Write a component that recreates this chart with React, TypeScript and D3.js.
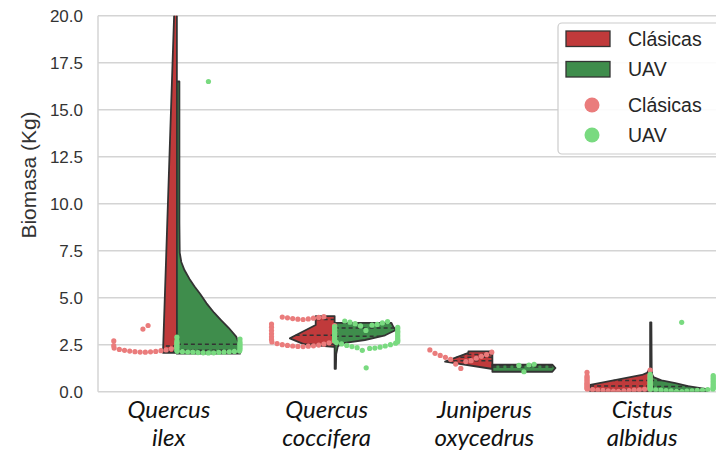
import React from 'react';
import * as d3 from 'd3';

// species on the x axis (two lines each, italic)
const categories = ['Quercus ilex', 'Quercus coccifera', 'Juniperus oxycedrus', 'Cistus albidus'];
const methods = ['Clásicas', 'UAV'];
const yTicks = [0, 2.5, 5, 7.5, 10, 12.5, 15, 17.5, 20];

// violin half outlines: [biomasa, relative density]
const clasicasViolin: [number, number][][] = [
  [[2.07, 0.22], [20.4, 0.04]],
  [[2.39, 0.02], [2.52, 0.48], [2.84, 0.71], [3.55, 0.3], [4.02, 0.3]],
  [[1.22, 0.02], [1.6, 0.75], [2.07, 0.38], [2.14, 0.38]],
  [[0, 0.95], [0.36, 0.95], [0.89, 0.13], [1.0, 0.05], [1.15, 0.02]],
];
const uavViolin: [number, number][][] = [
  [[2.02, 1.0], [2.5, 0.99], [2.93, 0.94], [3.4, 0.82], [3.81, 0.7], [4.2, 0.59], [4.7, 0.47], [5.2, 0.37], [5.6, 0.28], [6.0, 0.2],
    [6.47, 0.12], [6.9, 0.07], [7.4, 0.045], [9, 0.04], [16.5, 0.04]],
  [[1.22, 0.02], [2.0, 0.025], [2.4, 0.05], [2.57, 0.11], [2.75, 0.48], [3.0, 0.8], [3.28, 0.97], [3.45, 0.93], [3.66, 0.9]],
  [[1.06, 0.95], [1.26, 1.0], [1.44, 0.95]],
  [[0, 0.9], [0.14, 0.9], [0.3, 0.6], [0.45, 0.4], [0.6, 0.18], [0.76, 0.06], [0.89, 0.035], [1.1, 0.025], [3.69, 0.02]],
];

// individual measurements (swarm)
const clasicasPoints: number[][] = [
  [2.10, 2.11, 2.12, 2.13, 2.14, 2.16, 2.18, 2.20, 2.22, 2.25, 2.28, 2.32, 2.37, 2.45, 2.57, 2.7, 3.33, 3.52],
  [2.40, 2.41, 2.42, 2.43, 2.44, 2.46, 2.48, 2.50, 2.53, 2.56, 2.60, 2.65, 2.71, 2.78, 2.85, 2.92, 3.0, 3.08, 3.16, 3.25, 3.34, 3.43, 3.52, 3.60,
    3.84, 3.86, 3.87, 3.89, 3.91, 3.93, 3.95, 3.97, 3.99],
  [1.24, 1.47, 1.6, 1.65, 1.72, 1.78, 1.83, 1.88, 1.93, 1.98, 2.04, 2.1, 2.22],
  [0.02, 0.03, 0.04, 0.05, 0.06, 0.07, 0.08, 0.09, 0.10, 0.11, 0.12, 0.13, 0.15, 0.17, 0.19, 0.21, 0.24, 0.27, 0.30, 0.33, 0.36, 0.39,
    0.42, 0.45, 0.48, 0.52, 0.56, 0.60, 0.64, 0.68, 0.72, 0.76, 0.80, 0.84, 0.88, 1.03, 1.15],
];
const uavPoints: number[][] = [
  [2.06, 2.07, 2.07, 2.08, 2.09, 2.10, 2.10, 2.11, 2.12, 2.13, 2.14, 2.15, 2.16, 2.2, 2.25, 2.3, 2.35, 2.4, 2.45, 2.5, 2.55, 2.6, 2.65,
    2.7, 2.8, 2.9, 16.5],
  [1.27, 2.2, 2.3, 2.32, 2.34, 2.37, 2.40, 2.43, 2.46, 2.50, 2.54, 2.58, 2.62, 2.66, 2.70, 2.74, 2.78, 2.83, 2.88, 2.93, 2.98, 3.03, 3.08,
    3.13, 3.18, 3.22, 3.26, 3.30, 3.34, 3.38, 3.42, 3.46, 3.50, 3.54, 3.58, 3.62, 3.66, 3.70, 3.73, 3.76],
  [1.06, 1.40, 1.42, 1.46],
  [0.01, 0.02, 0.03, 0.04, 0.05, 0.06, 0.07, 0.08, 0.09, 0.10, 0.11, 0.12, 0.13, 0.15, 0.18, 0.21, 0.24, 0.27, 0.30, 0.34, 0.38, 0.42,
    0.46, 0.50, 0.54, 0.58, 0.62, 0.66, 0.70, 0.74, 0.78, 0.82, 0.86, 0.92, 3.69],
];

const violinColors = ['#c03a3b', '#3f8d4c'];
const pointColors = ['#ea7c7c', '#79da80'];
const edge = '#333333';
const R = 2.6;

// simple beeswarm; layout is computed on a compressed value axis, overflow goes to the gutters
function swarm(values: number[], cx: number, halfW: number, yLayout: (v: number) => number) {
  const pts = [...values].sort((a, b) => a - b).map(v => ({ v, yl: yLayout(v), dx: 0 }));
  const placed: typeof pts = [];
  const d2 = 4 * R * R;
  for (const p of pts) {
    const near = placed.filter(q => Math.abs(q.yl - p.yl) < 2 * R);
    const cands = [0];
    near.forEach(q => {
      const off = Math.sqrt(d2 - (q.yl - p.yl) ** 2);
      cands.push(q.dx - off, q.dx + off);
    });
    cands.sort((a, b) => Math.abs(a) - Math.abs(b) || a - b);
    for (const c of cands) {
      if (near.every(q => (q.dx - c) ** 2 + (q.yl - p.yl) ** 2 >= d2 - 1e-6)) { p.dx = c; break; }
    }
    placed.push(p);
  }
  return pts.map(p => ({ v: p.v, x: cx + Math.max(-halfW, Math.min(halfW, p.dx)) }));
}

export default function App() {
  const x = d3.scaleBand<string>().domain(categories).range([98, 729]);
  const y = d3.scaleLinear().domain([0, 20]).range([391.7, 15.7]);
  const yLayout = d3.scaleLinear().domain([0, 100]).range([375, 0]);
  const width = d3.scaleLinear().domain([0, 1]).range([0, x.step() * 0.4]);
  const swarmHalf = x.step() * 0.2;

  const halves = categories.map((c, i) => {
    const cx = x(c)! + x.bandwidth() / 2;
    return [clasicasViolin[i], uavViolin[i]].map((prof, h) => {
      const sgn = h === 0 ? -1 : 1;
      const area = d3.area<[number, number]>()
        .y(d => y(d[0]))
        .x0(cx)
        .x1(d => cx + sgn * width(d[1]));
      const dens = d3.scaleLinear().domain(prof.map(d => d[0])).range(prof.map(d => d[1])).clamp(true);
      const data = [clasicasPoints[i], uavPoints[i]][h].slice().sort((a, b) => a - b);
      const qs = [0.25, 0.5, 0.75].map(q => d3.quantile(data, q)!);
      return { path: area(prof)!, sgn, cx, qs, dens, h };
    });
  });

  const points = categories.map((c, i) => {
    const cx = x(c)! + x.bandwidth() / 2;
    return [
      swarm(clasicasPoints[i], cx - swarmHalf, swarmHalf, yLayout),
      swarm(uavPoints[i], cx + swarmHalf, swarmHalf, yLayout),
    ];
  });

  const font = '"Liberation Sans", Arial, sans-serif';

  return (
    <svg width={716} height={452} style={{ position: 'absolute', left: 0, top: 0, background: '#fff' }}>
      <defs>
        <clipPath id="plot"><rect x={98} y={15.7} width={631} height={376} /></clipPath>
      </defs>
      {yTicks.map(t => (
        <line key={t} x1={98} x2={729} y1={y(t)} y2={y(t)} stroke="#d4d4d4" strokeWidth={1.5} />
      ))}
      <line x1={98} x2={98} y1={15.7} y2={391.7} stroke="#d4d4d4" strokeWidth={1.5} />
      {yTicks.map(t => (
        <text key={t} x={83} y={y(t)} dy="0.36em" textAnchor="end" fontFamily={font} fontSize={17} fill="#333">
          {d3.format('.1f')(t)}
        </text>
      ))}
      <text transform="translate(36,175) rotate(-90)" textAnchor="middle" fontFamily={font} fontSize={21} fill="#333">
        Biomasa (Kg)
      </text>

      <g clipPath="url(#plot)">
        {halves.map((pair, i) => pair.map(hv => (
          <g key={`${i}-${hv.h}`}>
            <path d={hv.path} fill={violinColors[hv.h]} stroke={edge} strokeWidth={1.8} strokeLinejoin="round" />
            {hv.qs.map((q, k) => (
              <line key={k} x1={hv.cx} x2={hv.cx + hv.sgn * width(hv.dens(q))} y1={y(q)} y2={y(q)}
                stroke={edge} strokeWidth={1.5} strokeDasharray="4,3" />
            ))}
          </g>
        )))}
        {points.map((pair, i) => pair.map((pts, h) => pts.map((p, k) => (
          <circle key={`${i}-${h}-${k}`} cx={p.x} cy={y(p.v)} r={R} fill={pointColors[h]} />
        ))))}
      </g>

      {categories.map(c => {
        const [l1, l2] = c.split(' ');
        const cx = x(c)! + x.bandwidth() / 2 - 8;
        return (
          <text key={c} textAnchor="middle" fontFamily="Lato, 'Open Sans', sans-serif" fontStyle="italic" fontSize={24} fill="#111">
            <tspan x={cx} y={418}>{l1}</tspan>
            <tspan x={cx} y={446}>{l2}</tspan>
          </text>
        );
      })}

      <g>
        <rect x={558} y={23} width={175} height={131} rx={4} fill="#fff" fillOpacity={0.9} stroke="#cccccc" strokeWidth={1.2} />
        {methods.map((m, h) => (
          <g key={`v${m}`}>
            <rect x={566} y={31 + h * 30.5} width={44} height={15.5} fill={violinColors[h]} stroke={edge} strokeWidth={1.3} />
            <text x={628} y={38.8 + h * 30.5} dy="0.36em" fontFamily={font} fontSize={19.5} fill="#262626">{m}</text>
          </g>
        ))}
        {methods.map((m, h) => (
          <g key={`p${m}`}>
            <circle cx={592} cy={105 + h * 30} r={7.5} fill={pointColors[h]} />
            <text x={628} y={105 + h * 30} dy="0.36em" fontFamily={font} fontSize={19.5} fill="#262626">{m}</text>
          </g>
        ))}
      </g>
    </svg>
  );
}
